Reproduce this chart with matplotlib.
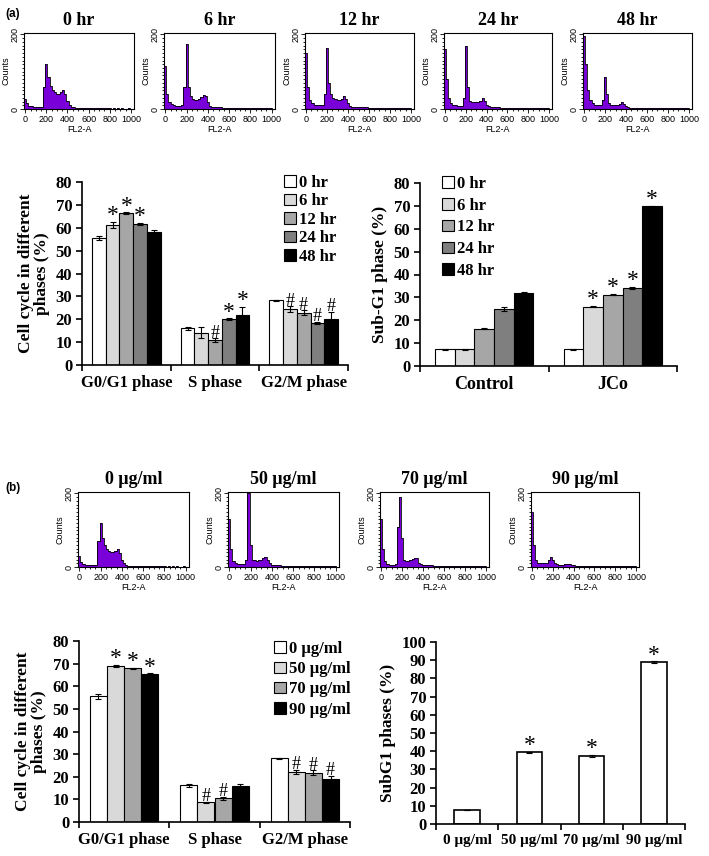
import numpy as np
import matplotlib
matplotlib.use('Agg')
import matplotlib.pyplot as plt

# ---- data ----
# flow histograms: counts per 20-channel bin, channels 0..1000
channels = np.arange(0, 1001, 20)
hist_0hr = [28, 15, 9, 7, 6, 5, 5, 5, 6, 60,
            122, 85, 62, 52, 45, 40, 40, 45, 50, 40,
            22, 12, 6, 5, 4, 4, 4, 4, 4, 4,
            4, 4, 4, 4, 4, 4, 4, 4, 2, 2,
            2, 1, 2, 1, 2, 1, 2, 1, 1, 2, 1]
hist_6hr = [115, 40, 20, 14, 10, 8, 8, 8, 10, 60,
            175, 60, 35, 28, 25, 25, 27, 32, 38, 36,
            20, 9, 6, 5, 5, 5, 5, 4, 4, 4,
            4, 3, 3, 3, 3, 3, 3, 3, 3, 3,
            3, 3, 3, 3, 3, 3, 3, 3, 3, 3, 3]
hist_12hr = [150, 60, 25, 15, 12, 10, 10, 10, 12, 40,
             165, 70, 40, 30, 26, 25, 25, 28, 35, 28,
             15, 8, 6, 6, 6, 5, 5, 5, 5, 5,
             4, 4, 4, 3, 3, 3, 3, 3, 3, 3,
             3, 3, 3, 3, 3, 3, 3, 3, 3, 3, 3]
hist_24hr = [160, 80, 30, 15, 12, 10, 8, 8, 8, 30,
             170, 60, 22, 20, 20, 20, 20, 22, 30, 22,
             12, 8, 6, 5, 5, 5, 5, 4, 4, 4,
             4, 3, 3, 3, 3, 3, 3, 3, 3, 3,
             3, 3, 3, 3, 3, 3, 3, 3, 3, 3, 3]
hist_48hr = [195, 120, 50, 25, 15, 12, 10, 10, 12, 25,
             85, 40, 15, 12, 12, 12, 12, 14, 18, 14,
             8, 6, 4, 4, 4, 4, 4, 3, 3, 3,
             3, 2, 2, 2, 2, 2, 2, 2, 2, 2,
             2, 2, 2, 2, 2, 2, 2, 2, 2, 2, 2]
hist_d0 = [30, 14, 8, 6, 5, 5, 5, 5, 6, 70,
           120, 80, 60, 50, 44, 40, 40, 44, 48, 38,
           20, 10, 5, 4, 4, 4, 4, 4, 4, 4,
           4, 4, 4, 4, 4, 4, 4, 4, 2, 2,
           2, 1, 2, 1, 2, 1, 2, 1, 1, 2, 1]
hist_d50 = [130, 50, 15, 10, 8, 8, 8, 8, 20, 200,
            60, 20, 18, 17, 18, 20, 24, 28, 20, 10,
            6, 5, 5, 5, 5, 4, 4, 4, 4, 4,
            4, 3, 3, 3, 3, 3, 3, 3, 3, 3,
            3, 3, 3, 3, 3, 3, 3, 3, 3, 3, 3]
hist_d70 = [130, 50, 15, 8, 6, 6, 6, 8, 110, 190,
            80, 20, 15, 15, 18, 22, 25, 25, 12, 8,
            5, 5, 5, 5, 5, 4, 4, 4, 4, 4,
            4, 3, 3, 3, 3, 3, 3, 3, 3, 3,
            3, 3, 3, 3, 3, 3, 3, 3, 3, 3, 3]
hist_d90 = [150, 60, 20, 12, 10, 10, 10, 12, 18, 28,
            20, 10, 8, 6, 6, 6, 7, 8, 7, 5,
            5, 4, 4, 4, 3, 3, 3, 3, 3, 3,
            2, 2, 2, 2, 2, 2, 2, 2, 2, 2,
            2, 2, 2, 2, 2, 2, 2, 2, 2, 2, 2]

hours = ['0 hr', '6 hr', '12 hr', '24 hr', '48 hr']
doses = ['0 μg/ml', '50 μg/ml', '70 μg/ml', '90 μg/ml']
phases = ['G0/G1 phase', 'S phase', 'G2/M phase']
groups = ['Control', 'JCo']

# (a) cell cycle, rows = time point, cols = phase
cycle_a = [[55.6, 16.0, 28.3], [61.3, 14.2, 24.4], [66.4, 10.9, 22.9],
           [61.6, 20.1, 18.3], [58.1, 22.0, 20.1]]
cycle_a_err = [[1.0, 0.8, 0.2], [1.2, 2.2, 1.2], [0.3, 0.8, 1.0],
               [0.4, 0.3, 0.5], [0.8, 3.5, 3.0]]
cycle_a_marks = [['', '', ''], ['*', '', '#'], ['*', '#', '#'],
                 ['*', '*', '#'], ['', '*', '#']]

# (a) sub-G1, rows = time point, cols = group
subg1_a = [[7.4, 7.4], [7.4, 26.0], [16.3, 31.2], [24.9, 34.2], [31.9, 69.8]]
subg1_a_err = [[0.2, 0.2], [0.2, 0.3], [0.2, 0.2], [0.8, 0.5], [0.5, 0.3]]
subg1_a_marks = [['', ''], ['', '*'], ['', '*'], ['', '*'], ['', '*']]

# (b) cell cycle, rows = dose, cols = phase
cycle_b = [[55.5, 16.2, 28.2], [69.0, 8.7, 22.2], [67.9, 10.4, 21.8],
           [65.4, 15.9, 19.0]]
cycle_b_err = [[1.0, 0.8, 0.2], [0.6, 0.3, 0.8], [0.3, 0.8, 1.0], [0.3, 1.0, 1.5]]
cycle_b_marks = [['', '', ''], ['*', '#', '#'], ['*', '#', '#'], ['*', '', '#']]

# (b) sub-G1 per dose
subg1_b = [7.7, 39.3, 37.4, 89.0]
subg1_b_err = [0.2, 0.5, 0.5, 0.3]
subg1_b_marks = ['', '*', '*', '*']

grays5 = ['white', '#d9d9d9', '#a6a6a6', '#7f7f7f', 'black']
grays4 = ['white', '#d9d9d9', '#a6a6a6', 'black']
PURPLE = '#7a00d9'
SERIF = 'Liberation Serif'
SANS = ['Liberation Sans Narrow', 'Liberation Sans', 'DejaVu Sans']

plt.rcParams['font.family'] = SERIF
plt.rcParams['font.weight'] = 'bold'

W, H = 709, 856
fig = plt.figure(figsize=(W / 100, H / 100), dpi=100)


def box(l, t, r, b):
    return fig.add_axes([l / W, 1 - b / H, (r - l) / W, (b - t) / H])


def draw_hist(ax, counts, title):
    ax.fill_between(channels, counts, step='mid', color=PURPLE, lw=0)
    ax.step(channels, counts, where='mid', color='k', lw=0.6)
    ax.set_xlim(-12, 1030)
    ax.set_ylim(0, 204)
    ax.set_xticks(range(0, 1001, 200))
    ax.set_xticks(range(0, 1001, 50), minor=True)
    ax.set_yticks([0, 200])
    ax.set_yticks(range(0, 201, 10), minor=True)
    ax.tick_params(which='both', direction='out', width=0.6, pad=1)
    ax.tick_params(axis='y', which='both', pad=0.5)
    ax.tick_params(which='major', length=3)
    ax.tick_params(which='minor', length=1.5)
    for lab in ax.get_xticklabels():
        lab.set_fontsize(6.5)
        lab.set_family(SANS)
        lab.set_fontweight('normal')
    for lab in ax.get_yticklabels():
        lab.set_fontsize(6.5)
        lab.set_family(SANS)
        lab.set_fontweight('normal')
        lab.set_rotation(90)
        lab.set_va('center')
    for s in ax.spines.values():
        s.set_linewidth(0.8)
    ax.set_xlabel('FL2-A', fontsize=6.5, family=SANS, fontweight='normal', labelpad=1)
    ax.set_ylabel('Counts', fontsize=6.5, family=SANS, fontweight='normal', labelpad=0)
    ax.set_title(title, fontsize=13, fontweight='bold', pad=6)


def style_bar_axes(ax, cats, ymax, ystep, ylabel, catsize=12):
    n = len(cats)
    ax.set_xlim(-0.5, n - 0.5)
    ax.set_ylim(0, ymax)
    ax.set_yticks(np.arange(0, ymax + 1, ystep))
    ax.set_xticks(np.arange(-0.5, n, 1))
    ax.set_xticklabels([])
    ax.set_xticks(np.arange(n), minor=True)
    ax.set_xticklabels(cats, minor=True, fontsize=catsize, fontweight='bold')
    ax.tick_params(axis='x', which='minor', length=0, pad=7)
    ax.tick_params(axis='x', which='major', length=4, width=1.2, direction='out')
    ax.tick_params(axis='y', length=4, width=1.2, direction='out', labelsize=12, pad=3)
    ax.spines['top'].set_visible(False)
    ax.spines['right'].set_visible(False)
    ax.spines['left'].set_linewidth(1.2)
    ax.spines['bottom'].set_linewidth(1.2)
    ax.set_ylabel(ylabel, fontsize=12.5, fontweight='bold', linespacing=1.0)


def draw_grouped(ax, vals, errs, marks, labels, colors, width):
    n = len(vals)
    x = np.arange(len(vals[0]))
    for i in range(n):
        pos = x + (i - (n - 1) / 2) * width
        ax.bar(pos, vals[i], width, yerr=errs[i], color=colors[i], edgecolor='k',
               lw=0.8, label=labels[i],
               error_kw=dict(lw=0.8, capsize=2, capthick=0.8, ecolor='k'))
        for p, v, e, m in zip(pos, vals[i], errs[i], marks[i]):
            if m:
                ax.text(p, v + e + 0.3, m, ha='center', va='baseline',
                        fontsize=17 if m == '*' else 13, fontweight='normal')


# ---- (a) histograms ----
fig.text(5 / W, 1 - 14 / H, '(a)', fontsize=8.5, fontweight='bold', family=SANS, va='center')
hist_a = [hist_0hr, hist_6hr, hist_12hr, hist_24hr, hist_48hr]
xs_a = [(24, 134), (164, 275), (305, 414), (444, 552), (583, 692)]
for (l, r), counts, title in zip(xs_a, hist_a, hours):
    draw_hist(box(l, 33, r, 109), counts, title)

# ---- (a) cell cycle bars ----
ax = box(82, 182, 348, 365)
draw_grouped(ax, cycle_a, cycle_a_err, cycle_a_marks, hours, grays5, 0.155)
style_bar_axes(ax, phases, 80, 10, 'Cell cycle in different\nphases (%)')
ax.legend(loc='upper left', bbox_to_anchor=(0.76, 1.04), frameon=False, borderpad=0,
          borderaxespad=0, handlelength=0.7, handleheight=0.7, handletextpad=0.2,
          labelspacing=0.15, prop=dict(size=12, weight='bold', family=SERIF))

# ---- (a) sub-G1 bars ----
ax = box(420, 183, 677, 366)
draw_grouped(ax, subg1_a, subg1_a_err, subg1_a_marks, hours, grays5, 0.153)
style_bar_axes(ax, groups, 80, 10, 'Sub-G1 phase (%)', catsize=13)
ax.legend(loc='upper left', bbox_to_anchor=(0.085, 1.04), frameon=False, borderpad=0,
          borderaxespad=0, handlelength=0.7, handleheight=0.7, handletextpad=0.2,
          labelspacing=0.35, prop=dict(size=12, weight='bold', family=SERIF))

# ---- (b) histograms ----
fig.text(5 / W, 1 - 488 / H, '(b)', fontsize=8.5, fontweight='bold', family=SANS, va='center')
hist_b = [hist_d0, hist_d50, hist_d70, hist_d90]
xs_b = [(78, 189), (228, 339), (380, 489), (531, 639)]
for (l, r), counts, title in zip(xs_b, hist_b, doses):
    draw_hist(box(l, 492, r, 567), counts, title)

# ---- (b) cell cycle bars ----
ax = box(79, 641, 350, 822)
draw_grouped(ax, cycle_b, cycle_b_err, cycle_b_marks, doses, grays4, 0.19)
style_bar_axes(ax, phases, 80, 10, 'Cell cycle in different\nphases (%)')
ax.legend(loc='upper left', bbox_to_anchor=(0.72, 1.0), frameon=False, borderpad=0,
          borderaxespad=0, handlelength=0.7, handleheight=0.7, handletextpad=0.2,
          labelspacing=0.25, prop=dict(size=12, weight='bold', family=SERIF))

# ---- (b) sub-G1 bars ----
ax = box(436, 642, 685, 824)
xb = np.arange(len(doses))
ax.bar(xb, subg1_b, 0.41, yerr=subg1_b_err, color='white', edgecolor='k', lw=1.2,
       error_kw=dict(lw=0.8, capsize=2, capthick=0.8, ecolor='k'))
for p, v, e, m in zip(xb, subg1_b, subg1_b_err, subg1_b_marks):
    if m:
        ax.text(p, v + e + 0.3, m, ha='center', va='baseline', fontsize=17,
                fontweight='normal')
style_bar_axes(ax, doses, 100, 10, 'SubG1 phases (%)', catsize=11)

fig.savefig('out.png', dpi=100)
